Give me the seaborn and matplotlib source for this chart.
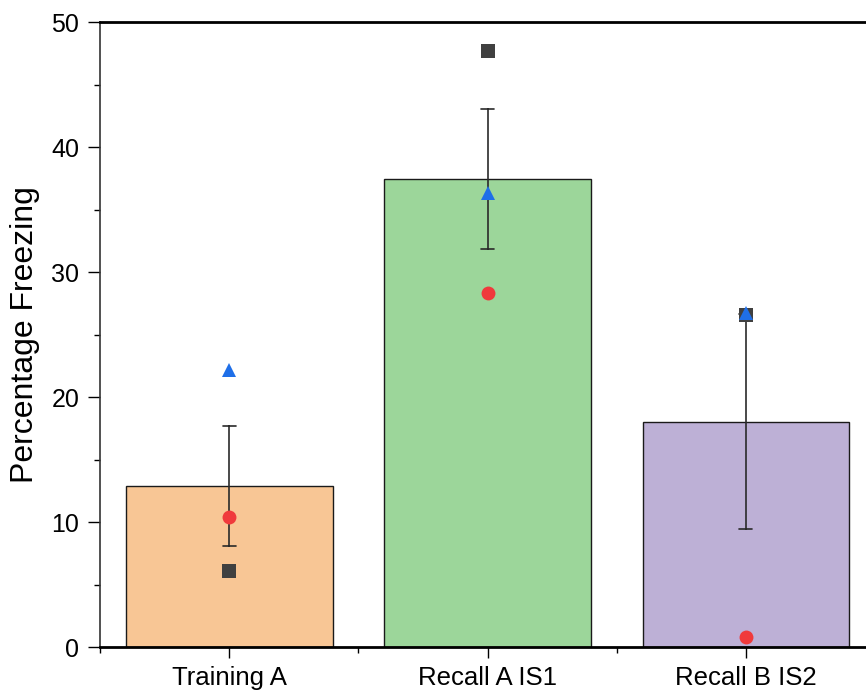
import pandas as pd
import numpy as np
import matplotlib
matplotlib.use('Agg')
import matplotlib.pyplot as plt
import seaborn as sns
from matplotlib.ticker import MultipleLocator

# Individual values (one per animal)
groups = ['Training A', 'Recall A IS1', 'Recall B IS2']
subject_sq = [6.1, 47.7, 26.6]
subject_ci = [10.4, 28.3, 0.8]
subject_tr = [22.2, 36.3, 26.7]

bar_colors = ['#F8C695', '#9CD69A', '#BDB0D6']
subject_names = ['S1', 'S2', 'S3']
marker_colors = ['#404040', '#F03A3C', '#1F6FE8']
marker_shapes = ['s', 'o', '^']

rows = []
for name, vals in zip(subject_names, [subject_sq, subject_ci, subject_tr]):
    for g, v in zip(groups, vals):
        rows.append({'group': g, 'subject': name, 'freezing': v})
df = pd.DataFrame(rows)

sns.set_style('ticks')
plt.rcParams['font.family'] = ['Liberation Sans', 'DejaVu Sans']
plt.rcParams['text.color'] = 'black'
plt.rcParams['axes.labelcolor'] = 'black'
plt.rcParams['xtick.color'] = 'black'
plt.rcParams['ytick.color'] = 'black'

fig = plt.figure(figsize=(8.66, 6.95), dpi=100)
ax = fig.add_axes([0.1155, 0.069, 0.895, 0.8993])

sns.barplot(data=df, x='group', y='freezing', order=groups, hue='group',
            palette=bar_colors, saturation=1, legend=False, width=0.8,
            errorbar='se', capsize=0.05,
            err_kws={'color': '#2a2a2a', 'linewidth': 1.2},
            edgecolor='#1a1a1a', linewidth=1.0, ax=ax)

sns.pointplot(data=df, x='group', y='freezing', order=groups, hue='subject',
              palette=marker_colors, markers=marker_shapes, linestyle='none',
              errorbar=None, dodge=False, markersize=10, markeredgewidth=0,
              legend=False, ax=ax)

ax.set_xlim(-0.5, 2.5)
ax.set_ylim(0, 50)
ax.yaxis.set_major_locator(MultipleLocator(10))
ax.yaxis.set_minor_locator(MultipleLocator(5))
ax.set_xticks([-0.5, 0.5, 1.5, 2.5], minor=True)

ax.set_xlabel('')
ax.set_ylabel('Percentage Freezing', fontsize=23, labelpad=8)
ax.tick_params(axis='y', which='major', length=9, width=1, labelsize=18, pad=6)
ax.tick_params(axis='y', which='minor', length=4, width=1)
ax.tick_params(axis='x', which='major', length=8, width=1, labelsize=18.5, pad=6)
ax.tick_params(axis='x', which='minor', length=4, width=1)

for side in ['top', 'bottom']:
    ax.spines[side].set_linewidth(2.0)
    ax.spines[side].set_color('black')
ax.spines['left'].set_linewidth(1.2)
ax.spines['left'].set_color('#333333')
ax.spines['right'].set_visible(True)
ax.spines['right'].set_color('black')

fig.savefig('out.png', dpi=100, facecolor='white')
